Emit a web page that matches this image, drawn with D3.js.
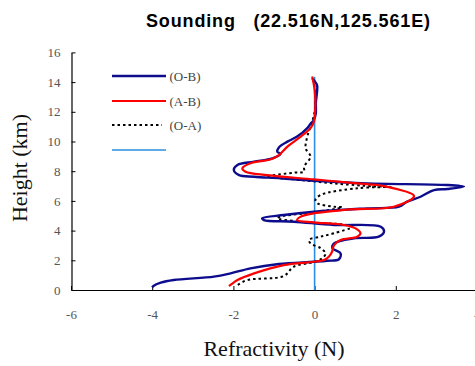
<!DOCTYPE html>
<html>
<head>
<meta charset="utf-8">
<script src="https://cdn.jsdelivr.net/npm/d3@7"></script>
<style>
  html, body { margin: 0; padding: 0; background: #fff; }
  svg { display: block; }
</style>
</head>
<body>
<svg id="chart" width="475" height="366"></svg>
<script>
// Refractivity difference profiles: [refractivity (N), height (km)]
const obsMinusBkg = [
  [-0.06, 14.26], [0.06, 13.8], [0.06, 13.35], [0.03, 12.6], [0.03, 11.9], [-0.02, 11.45],
  [-0.1, 11.2], [-0.18, 10.9], [-0.43, 10.33], [-0.67, 9.99], [-0.88, 9.6], [-0.92, 9.31],
  [-0.84, 9.16], [-1.04, 8.87], [-1.49, 8.64], [-1.9, 8.42], [-1.99, 8.08], [-1.86, 7.74],
  [-1.49, 7.63], [-0.84, 7.52], [-0.02, 7.36], [1.3, 7.18], [3.27, 7.07], [3.68, 6.96],
  [3.27, 6.8], [2.94, 6.73], [2.61, 6.28], [2.28, 5.95], [2.08, 5.61], [1.3, 5.5],
  [-0.02, 5.27], [-0.76, 5.05], [-1.29, 4.83], [-1.25, 4.71], [-0.51, 4.6], [0.48, 4.38],
  [1.63, 4.26], [1.71, 3.93], [1.58, 3.59], [0.97, 3.48], [0.48, 3.14], [0.44, 2.81],
  [0.64, 2.47], [0.6, 2.07], [0.31, 1.97], [-0.02, 1.9], [-0.88, 1.75], [-1.58, 1.46],
  [-2.07, 1.12], [-2.48, 0.9], [-3.47, 0.67], [-3.79, 0.49], [-3.97, 0.27], [-4.0, 0.18]
];
const anaMinusBkg = [
  [-0.06, 14.37], [0.0, 13.5], [0.02, 12.6], [-0.02, 11.33], [-0.1, 10.9], [-0.34, 10.33],
  [-0.67, 9.66], [-0.88, 9.09], [-1.08, 8.8], [-1.58, 8.53], [-1.78, 8.19], [-1.7, 7.97],
  [-1.17, 7.74], [-0.02, 7.45], [1.05, 7.18], [1.71, 7.0], [2.45, 6.33], [1.95, 5.61],
  [0.89, 5.43], [-0.02, 5.16], [-0.34, 4.94], [-0.43, 4.71], [-0.02, 4.56], [0.72, 4.38],
  [1.01, 4.15], [1.13, 3.82], [1.05, 3.59], [0.64, 3.37], [0.48, 3.03], [0.43, 2.58],
  [0.35, 2.24], [0.23, 2.02], [-0.02, 1.9], [-0.76, 1.68], [-1.49, 1.12], [-1.9, 0.67],
  [-2.07, 0.34], [-2.11, 0.27]
];
const obsMinusAna = [
  [-0.04, 14.2], [0.02, 13.2], [0.0, 12.0], [-0.1, 11.0], [-0.18, 10.33], [-0.22, 9.54],
  [-0.1, 8.98], [-0.26, 8.3], [-0.26, 7.97], [-0.51, 7.9], [-1.17, 7.63], [-0.51, 7.45],
  [0.48, 7.18], [1.46, 6.98], [1.87, 6.95], [1.05, 6.85], [0.15, 6.4], [0.02, 6.06],
  [0.07, 5.84], [0.48, 5.61], [0.68, 5.57], [0.07, 5.27], [-0.84, 4.94], [-0.92, 4.83],
  [-0.34, 4.6], [0.8, 4.38], [0.93, 4.26], [0.48, 3.82], [0.15, 3.59], [-0.14, 3.37],
  [-0.1, 3.14], [0.15, 2.81], [0.27, 2.47], [0.19, 2.14], [0.0, 1.9], [-0.51, 1.57],
  [-0.76, 0.94], [-1.66, 0.67], [-1.9, 0.34], [-1.95, 0.3]
];
const zeroLine = [[0, 0], [0, 14.35]];

const xTicks = [-6, -4, -2, 0, 2, 4];
const yTicks = [0, 2, 4, 6, 8, 10, 12, 14, 16];
const legendLabels = ["(O-B)", "(A-B)", "(O-A)", ""];
const titleText = "Sounding   (22.516N,125.561E)";

const svg = d3.select("#chart");
const x = d3.scaleLinear().domain([-6, 4]).range([71, 477]);
const y = d3.scaleLinear().domain([0, 16]).range([290, 52.4]);

// Axes with inward ticks, plain hyphen-minus labels
const fmt = d => String(d);
const xAxis = d3.axisBottom(x).tickValues(xTicks).tickFormat(fmt)
  .tickSizeInner(-4).tickSizeOuter(0).tickPadding(20);
const yAxis = d3.axisLeft(y).tickValues(yTicks).tickFormat(fmt)
  .tickSizeInner(-4).tickSizeOuter(0).tickPadding(11);

const gx = svg.append("g").attr("transform", "translate(0,290)").call(xAxis);
const gy = svg.append("g").attr("transform", "translate(71.5,0)").call(yAxis);
[gx, gy].forEach(g => {
  g.select(".domain").attr("stroke", "#000").attr("stroke-width", 1.2);
  g.selectAll(".tick line").attr("stroke", "#000");
  g.selectAll(".tick text")
    .attr("font-family", "'Liberation Serif', 'Times New Roman', serif")
    .attr("font-size", 13).attr("fill", "#555");
});

const line = d3.line().x(d => x(d[0])).y(d => y(d[1])).curve(d3.curveCatmullRom.alpha(0.5));

svg.append("path").datum(zeroLine).attr("d", line)
  .attr("fill", "none").attr("stroke", "#2b8ee0").attr("stroke-width", 1.6);
svg.append("path").datum(obsMinusAna).attr("d", line)
  .attr("fill", "none").attr("stroke", "#000").attr("stroke-width", 2)
  .attr("stroke-dasharray", "2.5,3");
svg.append("path").datum(obsMinusBkg).attr("d", line)
  .attr("fill", "none").attr("stroke", "#0c0c8c").attr("stroke-width", 2.4);
svg.append("path").datum(anaMinusBkg).attr("d", line)
  .attr("fill", "none").attr("stroke", "#ff0000").attr("stroke-width", 2.2);

// Legend
const legendStyles = [
  { stroke: "#0c0c8c", width: 2.4, dash: null, x2: 166 },
  { stroke: "#ff0000", width: 2.2, dash: null, x2: 166 },
  { stroke: "#000", width: 2, dash: "2.5,3", x2: 162 },
  { stroke: "#2b8ee0", width: 1.4, dash: null, x2: 166 }
];
const legendY = [76, 101, 125, 150];
legendLabels.forEach((lab, i) => {
  const s = legendStyles[i];
  svg.append("line").attr("x1", 112).attr("x2", s.x2)
    .attr("y1", legendY[i]).attr("y2", legendY[i])
    .attr("stroke", s.stroke).attr("stroke-width", s.width)
    .attr("stroke-dasharray", s.dash);
  if (lab) {
    svg.append("text").attr("x", 169.5).attr("y", legendY[i] + 4.5)
      .attr("font-family", "'Liberation Serif', 'Times New Roman', serif")
      .attr("font-size", 13).attr("fill", "#444").text(lab);
  }
});

// Titles
svg.append("text").attr("x", 146).attr("y", 26.5)
  .attr("font-family", "'Liberation Sans', Arial, sans-serif")
  .attr("font-weight", "bold").attr("font-size", 18)
  .attr("textLength", 284).attr("lengthAdjust", "spacing")
  .style("white-space", "pre").text(titleText);

svg.append("text").attr("x", 274).attr("y", 356).attr("text-anchor", "middle")
  .attr("font-family", "'Liberation Serif', 'Times New Roman', serif")
  .attr("font-size", 22).attr("fill", "#111").text("Refractivity (N)");

svg.append("text").attr("transform", "translate(27,168) rotate(-90)")
  .attr("text-anchor", "middle")
  .attr("font-family", "'Liberation Serif', 'Times New Roman', serif")
  .attr("font-size", 22).attr("fill", "#111").text("Height (km)");
</script>
</body>
</html>
